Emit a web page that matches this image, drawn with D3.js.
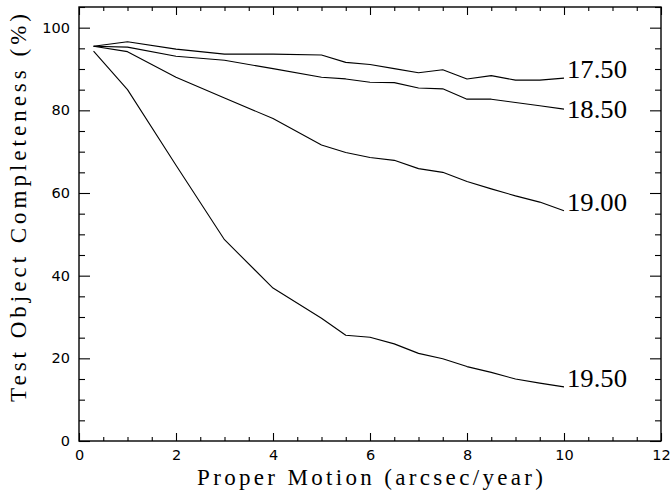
<!DOCTYPE html>
<html>
<head>
<meta charset="utf-8">
<script src="https://cdn.jsdelivr.net/npm/d3@7/dist/d3.min.js"></script>
<style>
  html, body { margin: 0; padding: 0; background: #fff; }
  svg { display: block; }
</style>
</head>
<body>
<svg id="chart" width="672" height="493"></svg>
<script>
// ---- Data ----
const properMotion = [0.3, 1, 2, 3, 4, 5, 5.5, 6, 6.5, 7, 7.5, 8, 8.5, 9, 9.5, 10];
const magnitudes = ["17.50", "18.50", "19.00", "19.50"];
const completeness_1750 = [95.5, 96.6, 94.8, 93.6, 93.6, 93.4, 91.6, 91.1, 90.1, 89.1, 89.8, 87.6, 88.4, 87.3, 87.3, 87.8];
const completeness_1850 = [95.5, 95.3, 93.1, 92.1, 90.1, 88.0, 87.6, 86.8, 86.7, 85.4, 85.2, 82.7, 82.7, 81.9, 81.1, 80.3];
const completeness_1900 = [95.5, 94.2, 88.0, 83.0, 78.0, 71.6, 69.8, 68.6, 67.9, 65.9, 65.0, 62.8, 61.0, 59.3, 57.8, 55.7];
const completeness_1950 = [94.3, 85.0, 66.7, 48.7, 37.0, 29.7, 25.6, 25.1, 23.5, 21.2, 19.9, 18.0, 16.6, 15.0, 14.0, 13.1];
const xMajorTicks = [0, 2, 4, 6, 8, 10, 12];
const yMajorTicks = [0, 20, 40, 60, 80, 100];
const xTitle = "Proper Motion (arcsec/year)";
const yTitle = "Test Object Completeness (%)";

const seriesValues = [completeness_1750, completeness_1850, completeness_1900, completeness_1950];

// ---- Layout ----
const svg = d3.select("#chart");
const pLeft = 79, pRight = 661, pTop = 7, pBottom = 441;
const x = d3.scaleLinear().domain([0, 12]).range([pLeft, pRight]);
const y = d3.scaleLinear().domain([0, 105]).range([pBottom, pTop]);

const xMinor = d3.range(0, 12.01, 0.5).filter(v => Math.abs(v / 2 - Math.round(v / 2)) > 1e-6);
const yMinor = d3.range(0, 105.01, 5).filter(v => v % 20 !== 0);

const tickFont = "'DejaVu Sans', sans-serif";
const titleFont = "'Liberation Serif', serif";
const labelFont = "'Liberation Serif', serif";

function styleAxis(g) {
  g.select(".domain").remove();
  g.selectAll(".tick line").attr("stroke", "#000").attr("stroke-width", 1.1);
  g.selectAll(".tick text").attr("fill", "#000").attr("font-family", tickFont).attr("font-size", 14.5);
}

// Bottom axis: major with labels, minor without
svg.append("g").attr("transform", `translate(0,${pBottom})`)
  .call(d3.axisBottom(x).tickValues(xMajorTicks).tickFormat(d3.format("d")).tickSizeInner(-8).tickSizeOuter(0).tickPadding(9))
  .call(styleAxis);
svg.append("g").attr("transform", `translate(0,${pBottom})`)
  .call(d3.axisBottom(x).tickValues(xMinor).tickFormat("").tickSizeInner(-4).tickSizeOuter(0))
  .call(styleAxis);
// Top axis
svg.append("g").attr("transform", `translate(0,${pTop})`)
  .call(d3.axisTop(x).tickValues(xMajorTicks).tickFormat("").tickSizeInner(-8).tickSizeOuter(0))
  .call(styleAxis);
svg.append("g").attr("transform", `translate(0,${pTop})`)
  .call(d3.axisTop(x).tickValues(xMinor).tickFormat("").tickSizeInner(-4).tickSizeOuter(0))
  .call(styleAxis);
// Left axis
svg.append("g").attr("transform", `translate(${pLeft},0)`)
  .call(d3.axisLeft(y).tickValues(yMajorTicks).tickFormat(d3.format("d")).tickSizeInner(-11).tickSizeOuter(0).tickPadding(9))
  .call(styleAxis);
svg.append("g").attr("transform", `translate(${pLeft},0)`)
  .call(d3.axisLeft(y).tickValues(yMinor).tickFormat("").tickSizeInner(-6).tickSizeOuter(0))
  .call(styleAxis);
// Right axis
svg.append("g").attr("transform", `translate(${pRight},0)`)
  .call(d3.axisRight(y).tickValues(yMajorTicks).tickFormat("").tickSizeInner(-11).tickSizeOuter(0))
  .call(styleAxis);
svg.append("g").attr("transform", `translate(${pRight},0)`)
  .call(d3.axisRight(y).tickValues(yMinor).tickFormat("").tickSizeInner(-6).tickSizeOuter(0))
  .call(styleAxis);

// Frame
svg.append("rect")
  .attr("x", x(0)).attr("y", y(105))
  .attr("width", x(12) - x(0)).attr("height", y(0) - y(105))
  .attr("fill", "none").attr("stroke", "#000").attr("stroke-width", 1.4);

// Curves
const line = d3.line().x((d, i) => x(properMotion[i])).y(d => y(d));
seriesValues.forEach(vals => {
  svg.append("path").datum(vals)
    .attr("d", line)
    .attr("fill", "none").attr("stroke", "#000").attr("stroke-width", 1.1)
    .attr("stroke-linejoin", "round");
});

// Curve labels at the end of each curve
const labelDy = [0, 9, 0, 0];
seriesValues.forEach((vals, i) => {
  const n = vals.length - 1;
  svg.append("text")
    .attr("x", x(properMotion[n]) + 3)
    .attr("y", y(vals[n]) + labelDy[i])
    .attr("font-family", labelFont).attr("font-size", 26)
    .attr("textLength", 60).attr("lengthAdjust", "spacingAndGlyphs")
    .attr("fill", "#000")
    .text(magnitudes[i]);
});

// Axis titles
svg.append("text")
  .attr("x", (pLeft + pRight) / 2).attr("y", 485)
  .attr("text-anchor", "middle")
  .attr("font-family", titleFont).attr("font-size", 23)
  .attr("textLength", 346).attr("lengthAdjust", "spacing")
  .attr("fill", "#000")
  .text(xTitle);

svg.append("text")
  .attr("transform", `translate(26,${208}) rotate(-90)`)
  .attr("text-anchor", "middle")
  .attr("font-family", titleFont).attr("font-size", 23)
  .attr("textLength", 388).attr("lengthAdjust", "spacing")
  .attr("fill", "#000")
  .text(yTitle);
</script>
</body>
</html>
